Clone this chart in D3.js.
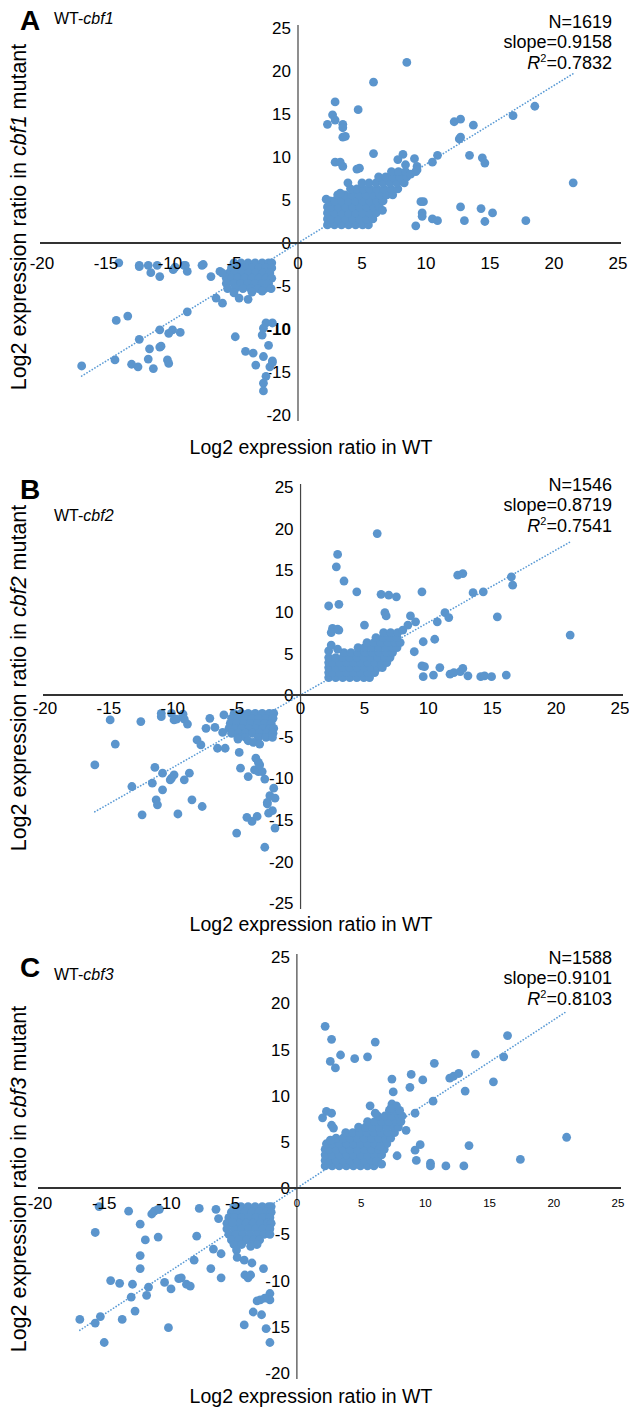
<!DOCTYPE html>
<html>
<head>
<meta charset="utf-8">
<script src="https://cdn.jsdelivr.net/npm/d3@7"></script>
<style>
  body { margin: 0; background: #fff; }
  text { font-family: "Liberation Sans", Arial, sans-serif; fill: #000; }
</style>
</head>
<body>
<div id="Chart"></div>
<script>
// Three WT vs cbf mutant scatter plots (log2 expression ratios)

//////////////////////////////////////////////////////////////////////////
// chart values

var panelLetters = ["A", "B", "C"];
var mutantNames  = ["cbf1", "cbf2", "cbf3"];
var geneCounts   = [1619, 1546, 1588];
var slopes       = [0.9158, 0.8719, 0.9101];
var rSquared     = ["0.7832", "0.7541", "0.8103"];

var xTicks  = [-20, -15, -10, -5, 0, 5, 10, 15, 20, 25];
var yTicksA = [-20, -15, -10, -5, 0, 5, 10, 15, 20, 25];
var yTicksB = [-25, -20, -15, -10, -5, 0, 5, 10, 15, 20, 25];
var yTicksC = [-20, -15, -10, -5, 0, 5, 10, 15, 20, 25];

// the dense blobs, read row by row: [mutant value, [WT values]]
var coreA = [
    [2.1, [2.3, 2.85, 3.4, 3.95, 4.5, 5.05, 5.5]],
    [2.8, [2.3, 2.6, 3.15, 3.7, 4.25, 4.8, 5.35, 5.85]],
    [3.5, [2.3, 2.85, 3.4, 3.95, 4.5, 5.05, 5.6, 6.1]],
    [4.2, [2.3, 2.6, 3.15, 3.7, 4.25, 4.8, 5.35, 5.9, 6.35]],
    [4.9, [2.5, 2.85, 3.4, 3.95, 4.5, 5.05, 5.6, 6.15, 6.65]],
    [5.6, [3.1, 3.65, 4.2, 4.75, 5.3, 5.85, 6.4, 6.95, 7.4]],
    [6.3, [4.1, 4.6, 5.1, 5.6, 6.15, 6.7, 7.25, 7.8]],
    [7.0, [5.0, 5.55, 6.1, 6.65, 7.2, 7.75, 8.3]],
    [7.7, [6.3, 6.85, 7.4, 7.95, 8.5]],
    [8.3, [7.3, 7.85, 8.4]],
    [-2.3, [-5.0, -4.45, -3.9, -3.35, -2.8, -2.3, -2.05]],
    [-2.9, [-5.2, -4.7, -4.15, -3.6, -3.05, -2.5, -2.05]],
    [-3.5, [-5.4, -4.95, -4.4, -3.85, -3.3, -2.75, -2.2]],
    [-4.1, [-5.6, -5.2, -4.7, -4.15, -3.6, -3.05, -2.5, -2.05]],
    [-4.7, [-5.6, -5.0, -4.45, -3.9, -3.35, -2.8, -2.3]],
    [-5.3, [-5.5, -4.9, -4.3, -3.7, -3.1, -2.6, -2.1]]
];

var outA = [
    [2.2, 5.1], [3.3, 5.8], [3.9, 7.0], [6.6, 3.8], [8.8, 8.0], [9.2, 8.3],
    [8.5, 21.0], [5.9, 18.7], [2.9, 16.4], [2.7, 14.9], [2.9, 14.3], [2.3, 13.8],
    [3.5, 13.8], [3.5, 13.4], [3.5, 12.3], [3.7, 12.4], [4.7, 15.5], [12.2, 14.1],
    [12.7, 14.4], [13.7, 13.7], [12.6, 12.1], [12.7, 12.3], [16.8, 14.8], [18.5, 15.9],
    [21.5, 7.0], [2.9, 9.4], [3.3, 9.4], [3.5, 8.9], [4.6, 8.6], [4.8, 8.7],
    [5.9, 10.4], [8.2, 10.3], [9.1, 9.8], [7.8, 9.7], [8.4, 9.1], [9.3, 8.9],
    [9.3, 8.5], [10.5, 9.4], [10.9, 10.2], [13.4, 10.2], [14.4, 9.9], [14.6, 9.3],
    [9.6, 4.8], [9.8, 4.8], [9.7, 3.5], [9.7, 3.1], [9.2, 2.0], [10.5, 2.8],
    [10.9, 2.6], [13.0, 2.6], [12.7, 4.2], [14.3, 4.0], [14.6, 2.5], [15.2, 3.5],
    [17.8, 2.6],
    [-5.0, -5.8], [-3.6, -5.7], [-2.8, -5.6],
    [-14.0, -2.3], [-12.4, -2.6], [-12.4, -2.75], [-11.7, -2.6], [-11.5, -3.45],
    [-11.0, -2.6], [-10.8, -3.9], [-9.75, -3.1], [-9.6, -2.8], [-8.9, -2.6],
    [-8.65, -3.3], [-7.5, -2.6], [-6.8, -3.9], [-6.1, -3.3], [-5.9, -3.5],
    [-6.4, -6.4], [-5.9, -7.0], [-4.6, -6.4], [-3.9, -6.55], [-8.65, -8.0],
    [-14.2, -9.0], [-13.3, -8.5], [-10.8, -10.1], [-9.8, -10.1], [-10.1, -10.5],
    [-9.2, -10.4], [-12.4, -11.2], [-11.6, -12.3], [-10.8, -12.1], [-10.7, -12.0],
    [-11.7, -13.5], [-14.3, -13.6], [-13.0, -14.1], [-12.5, -14.4], [-11.3, -14.6],
    [-10.2, -13.6], [-10.1, -14.0], [-16.9, -14.3], [-4.9, -10.9], [-4.1, -12.6],
    [-3.5, -12.8], [-3.3, -14.2], [-2.7, -13.2], [-2.8, -10.7], [-2.5, -9.3],
    [-2.7, -9.9], [-2.0, -9.3], [-2.3, -11.9], [-2.0, -13.7], [-2.2, -14.4],
    [-2.0, -13.9], [-2.5, -15.5], [-2.7, -16.3], [-2.7, -17.2], [-7.4, -2.5],
    [-8.8, -2.6]
];

var coreB = [
    [2.1, [2.2, 2.75, 3.3, 3.85, 4.4, 4.95, 5.4]],
    [2.7, [2.2, 2.5, 3.05, 3.6, 4.15, 4.7, 5.25, 5.8]],
    [3.3, [2.2, 2.75, 3.3, 3.85, 4.4, 4.95, 5.5, 6.05, 6.4]],
    [3.9, [2.2, 2.5, 3.05, 3.6, 4.15, 4.7, 5.25, 5.8, 6.35, 6.75]],
    [4.5, [2.2, 2.75, 3.3, 3.85, 4.4, 4.95, 5.5, 6.05, 6.6, 7.0]],
    [5.1, [3.4, 3.95, 4.5, 5.05, 5.6, 6.15, 6.7, 7.2]],
    [5.7, [4.5, 5.0, 5.55, 6.1, 6.65, 7.2, 7.55]],
    [6.3, [5.2, 5.75, 6.3, 6.85, 7.4, 7.8]],
    [6.9, [5.9, 6.45, 7.0, 7.55]],
    [7.5, [6.5, 7.05, 7.6]],
    [-2.2, [-5.2, -4.65, -4.1, -3.55, -3.0, -2.45, -2.1]],
    [-2.8, [-5.4, -4.9, -4.35, -3.8, -3.25, -2.7, -2.15]],
    [-3.4, [-5.5, -5.0, -4.45, -3.9, -3.35, -2.8, -2.3]],
    [-4.0, [-5.6, -5.1, -4.6, -4.05, -3.5, -2.95, -2.4, -2.1]],
    [-4.6, [-5.4, -4.85, -4.3, -3.75, -3.2, -2.65, -2.15]],
    [-5.1, [-4.9, -4.3, -3.3, -2.7, -2.2]]
];

var outB = [
    [2.2, 5.3], [2.4, 6.0], [2.9, 5.5], [8.0, 7.8], [8.4, 8.4],
    [6.0, 19.4], [2.9, 16.9], [2.8, 15.4], [3.4, 13.7], [4.4, 12.4], [6.3, 12.1],
    [6.9, 12.0], [7.5, 11.8], [9.5, 12.4], [12.3, 14.4], [12.7, 14.6], [13.5, 12.3],
    [14.3, 12.4], [16.5, 14.2], [16.6, 13.2], [2.2, 10.7], [3.0, 10.9], [6.6, 9.9],
    [6.7, 9.5], [8.6, 9.5], [9.0, 8.8], [11.3, 9.9], [11.6, 9.3], [10.7, 8.8],
    [15.4, 9.4], [21.1, 7.2], [2.5, 8.0], [2.9, 7.9], [3.0, 7.8], [2.4, 7.5],
    [5.0, 8.4], [9.6, 6.4], [10.5, 6.7], [8.9, 5.2], [9.5, 3.5], [9.7, 3.4],
    [9.6, 2.2], [10.4, 2.4], [10.9, 3.3], [11.7, 2.5], [12.0, 2.7], [12.5, 2.8],
    [12.7, 3.2], [13.1, 2.3], [14.1, 2.2], [14.4, 2.3], [14.95, 2.2], [16.1, 2.4],
    [-4.1, -5.5], [-3.7, -5.7], [-3.2, -5.9], [-6.0, -2.4], [-4.9, -5.3],
    [-14.9, -3.0], [-12.5, -3.2], [-14.5, -5.9], [-16.1, -8.4], [-10.9, -2.2],
    [-10.9, -2.6], [-10.1, -2.2], [-9.9, -3.0], [-9.7, -2.9], [-9.2, -2.3],
    [-9.1, -2.9], [-8.85, -3.5], [-7.1, -2.8], [-7.4, -4.0], [-6.7, -3.9],
    [-8.1, -5.4], [-7.8, -6.0], [-6.5, -6.4], [-5.9, -6.4], [-6.1, -4.5],
    [-4.8, -6.9], [-4.7, -8.8], [-11.4, -8.7], [-10.8, -9.4], [-9.9, -9.6],
    [-10.2, -10.2], [-10.1, -10.0], [-8.7, -9.4], [-9.1, -10.2], [-13.2, -11.0],
    [-11.6, -10.6], [-10.8, -11.4], [-11.3, -12.6], [-11.2, -13.2], [-8.5, -12.6],
    [-7.7, -13.4], [-12.4, -14.4], [-9.6, -14.3], [-4.1, -9.8], [-3.6, -9.0],
    [-3.3, -9.2], [-3.0, -9.2], [-3.5, -7.6], [-3.3, -8.1], [-3.2, -8.4],
    [-2.8, -10.1], [-2.1, -11.2], [-2.4, -12.1], [-2.0, -12.4], [-2.6, -12.9],
    [-2.6, -13.1], [-2.2, -13.9], [-2.5, -14.2], [-2.0, -16.0], [-4.2, -14.7],
    [-3.8, -15.2], [-3.4, -14.6], [-5.0, -16.6], [-2.8, -18.3]
];

var coreC = [
    [2.4, [2.2, 2.75, 3.3, 3.85, 4.4, 4.95, 5.5, 6.0]],
    [3.0, [2.2, 2.5, 3.05, 3.6, 4.15, 4.7, 5.25, 5.8, 6.3]],
    [3.6, [2.2, 2.75, 3.3, 3.85, 4.4, 4.95, 5.5, 6.05, 6.6]],
    [4.2, [2.2, 2.5, 3.05, 3.6, 4.15, 4.7, 5.25, 5.8, 6.35, 6.8]],
    [4.8, [2.3, 2.75, 3.3, 3.85, 4.4, 4.95, 5.5, 6.05, 6.6, 7.0]],
    [5.4, [3.05, 3.6, 4.15, 4.7, 5.25, 5.8, 6.35, 6.9, 7.3]],
    [6.0, [3.8, 4.35, 4.9, 5.45, 6.0, 6.55, 7.1, 7.6]],
    [6.6, [4.8, 5.35, 5.9, 6.45, 7.0, 7.55, 7.9]],
    [7.2, [5.5, 6.05, 6.6, 7.15, 7.7, 8.1]],
    [7.8, [6.3, 6.85, 7.4, 7.95, 8.2]],
    [8.4, [7.2, 7.7, 8.0]],
    [-2.0, [-4.9, -4.35, -3.8, -3.25, -2.7, -2.2, -2.0]],
    [-2.6, [-5.1, -4.6, -4.05, -3.5, -2.95, -2.4, -2.0]],
    [-3.2, [-5.3, -4.85, -4.3, -3.75, -3.2, -2.65, -2.1]],
    [-3.8, [-5.45, -5.0, -4.5, -3.95, -3.4, -2.85, -2.3, -2.0]],
    [-4.4, [-5.45, -4.85, -4.3, -3.75, -3.2, -2.65, -2.1]],
    [-5.0, [-5.3, -4.75, -4.2, -3.65, -3.1, -2.55, -2.1]],
    [-5.6, [-5.1, -4.5, -3.9, -3.35, -2.9]],
    [-6.1, [-4.9, -4.3, -3.5, -3.1]]
];

var outC = [
    [7.4, 9.1], [7.75, 8.9], [7.3, 8.6], [2.6, 5.2], [6.2, 2.9],
    [2.2, 17.5], [2.7, 16.1], [2.6, 13.7], [3.0, 13.0], [3.4, 14.4], [4.5, 14.0],
    [5.5, 14.2], [6.1, 15.8], [16.4, 16.5], [13.9, 14.5], [16.1, 14.2], [10.7, 13.5],
    [11.9, 11.9], [12.2, 12.1], [12.6, 12.4], [15.3, 11.5], [7.4, 11.8], [8.9, 12.3],
    [8.8, 10.9], [9.8, 11.7], [10.6, 9.4], [13.1, 10.5], [5.7, 8.9], [7.5, 10.4],
    [2.3, 8.3], [2.7, 8.1], [2.0, 7.6], [2.7, 6.8], [2.85, 6.5], [6.1, 8.1],
    [9.2, 8.1], [8.5, 6.25], [21.0, 5.5], [13.4, 4.6], [9.6, 4.7], [9.2, 4.1],
    [17.4, 3.1], [7.8, 3.5], [9.3, 3.0], [10.4, 2.7], [10.4, 2.4], [11.6, 2.4],
    [13.0, 2.4], [6.6, 2.6], [6.5, 4.5],
    [-5.0, -3.7],
    [-15.4, -2.0], [-13.1, -2.5], [-11.3, -2.8], [-11.1, -2.5], [-10.8, -2.3],
    [-10.7, -2.3], [-12.2, -3.9], [-15.7, -4.8], [-11.8, -5.6], [-10.8, -5.3],
    [-7.8, -5.2], [-7.6, -2.2], [-6.3, -2.3], [-6.1, -3.3], [-12.2, -7.3],
    [-12.2, -8.7], [-8.0, -7.8], [-6.5, -6.6], [-5.9, -7.1], [-4.65, -7.5],
    [-4.1, -7.8], [-3.5, -8.1], [-6.7, -8.7], [-5.9, -9.7], [-4.05, -9.4],
    [-3.8, -9.7], [-3.6, -9.4], [-2.6, -8.7], [-14.5, -10.0], [-13.8, -10.3],
    [-12.8, -10.4], [-11.55, -10.7], [-11.7, -11.6], [-10.3, -10.2], [-9.8, -10.9],
    [-9.2, -9.8], [-9.0, -9.7], [-8.6, -10.4], [-8.3, -10.6], [-12.9, -11.8],
    [-12.6, -13.3], [-16.9, -14.2], [-15.7, -14.6], [-15.3, -13.9], [-15.0, -16.7],
    [-13.6, -14.2], [-10.0, -15.1], [-4.1, -14.8], [-3.4, -13.4], [-3.1, -12.2],
    [-2.85, -12.1], [-2.75, -13.7], [-2.4, -15.2], [-2.1, -11.4], [-2.1, -12.1],
    [-2.1, -16.7], [-2.5, -11.9], [-3.6, -6.3], [-4.7, -6.7]
];

//////////////////////////////////////////////////////////////////////////
// layout (pixel placement of each panel)

var Width = 629;
var Height = 1407;
var DotRadius = 4.4;
var DotColor = "#5b95cd";
var LineColor = "#5b9bd5";

var Layout = [
    { xRange: [42, 618], yDomain: [-20, 25], yRange: [415, 28], yTicks: yTicksA,
      letterY: 30, subY: 24, statY: 28, xTitleY: 454, yTitleMid: 217,
      xLabelDrop: 20, boldTick: -10, smallPositive: false },
    { xRange: [45, 620], yDomain: [-25, 25], yRange: [903, 487], yTicks: yTicksB,
      letterY: 499, subY: 521, statY: 491, xTitleY: 931, yTitleMid: 678,
      xLabelDrop: 13, boldTick: null, smallPositive: false },
    { xRange: [40, 618], yDomain: [-20, 25], yRange: [1373, 957], yTicks: yTicksC,
      letterY: 977, subY: 980, statY: 964, xTitleY: 1403, yTitleMid: 1179,
      xLabelDrop: 15, boldTick: null, smallPositive: true }
];

//////////////////////////////////////////////////////////////////////////
// functions

// flatten the blob rows and add the loose points
function makePoints (core, loose) {
    var pts = [];
    core.forEach(function (row) {
        row[1].forEach(function (x) { pts.push([x, row[0]]); });
    });
    return pts.concat(loose);
} // end makePoints

function drawPanel (svg, i, points) {

    var L = Layout[i];
    var xScale = d3.scaleLinear().domain([-20, 25]).range(L.xRange);
    var yScale = d3.scaleLinear().domain(L.yDomain).range(L.yRange);
    var x0 = xScale(0), y0 = yScale(0);
    var g = svg.append("g").attr("class", "panel");

    // y axis line and its labels (labels sit under the dots)
    g.append("line")
        .attr("x1", x0).attr("x2", x0)
        .attr("y1", yScale(25) - 3).attr("y2", yScale(L.yDomain[0]) + 6)
        .attr("stroke", "#444").attr("stroke-width", 1.2);

    g.selectAll(".ylab")
        .data(L.yTicks)
        .enter()
        .append("text")
        .attr("class", "ylab")
        .attr("x", x0 - 7)
        .attr("y", function (d) { return yScale(d); })
        .attr("dy", "0.36em")
        .attr("text-anchor", "end")
        .attr("font-size", "17px")
        .attr("font-weight", function (d) { return d === L.boldTick ? "bold" : "normal"; })
        .text(function (d) { return d; });

    // dotted trend line through the origin, over the data range
    var xs = points.map(function (p) { return p[0]; });
    var xMin = d3.min(xs), xMax = d3.max(xs);
    g.append("line")
        .attr("x1", xScale(xMin)).attr("y1", yScale(slopes[i] * xMin))
        .attr("x2", xScale(xMax)).attr("y2", yScale(slopes[i] * xMax))
        .attr("stroke", LineColor)
        .attr("stroke-width", 1.7)
        .attr("stroke-linecap", "round")
        .attr("stroke-dasharray", "0.1 3");

    // the genes
    g.selectAll("circle")
        .data(points)
        .enter()
        .append("circle")
        .attr("cx", function (d) { return xScale(d[0]); })
        .attr("cy", function (d) { return yScale(d[1]); })
        .attr("r", DotRadius)
        .attr("fill", DotColor);

    // x axis line and labels
    g.append("line")
        .attr("x1", L.xRange[0] - 2).attr("x2", L.xRange[1] + 3)
        .attr("y1", y0).attr("y2", y0)
        .attr("stroke", "#333").attr("stroke-width", 2);

    g.selectAll(".xlab")
        .data(xTicks)
        .enter()
        .append("text")
        .attr("class", "xlab")
        .attr("x", function (d) { return xScale(d); })
        .attr("y", y0 + L.xLabelDrop)
        .attr("dy", "0.36em")
        .attr("text-anchor", "middle")
        .attr("font-size", function (d) { return (L.smallPositive && d >= 0) ? "11.5px" : "17px"; })
        .text(function (d) { return d; });

    // panel letter and comparison name
    g.append("text")
        .attr("x", 20).attr("y", L.letterY)
        .attr("font-size", "28px").attr("font-weight", "bold")
        .text(panelLetters[i]);

    var sub = g.append("text")
        .attr("x", 54).attr("y", L.subY)
        .attr("font-size", "16px");
    sub.append("tspan").text("WT-");
    sub.append("tspan").attr("font-style", "italic").text(mutantNames[i]);

    // statistics, right aligned
    var statX = 612;
    g.append("text").attr("x", statX).attr("y", L.statY)
        .attr("text-anchor", "end").attr("font-size", "18px")
        .text("N=" + geneCounts[i]);
    g.append("text").attr("x", statX).attr("y", L.statY + 20)
        .attr("text-anchor", "end").attr("font-size", "18px")
        .text("slope=" + slopes[i].toFixed(4));
    var r2 = g.append("text").attr("x", statX).attr("y", L.statY + 41)
        .attr("text-anchor", "end").attr("font-size", "18px");
    r2.append("tspan").attr("font-style", "italic").text("R");
    r2.append("tspan").attr("font-size", "11px").attr("dy", -7).text("2");
    r2.append("tspan").attr("dy", 7).text("=" + rSquared[i]);

    // axis titles
    g.append("text")
        .attr("x", 311).attr("y", L.xTitleY)
        .attr("text-anchor", "middle").attr("font-size", "19.5px")
        .text("Log2 expression ratio in WT");

    var yt = g.append("text")
        .attr("transform", "translate(26," + L.yTitleMid + ") rotate(-90)")
        .attr("text-anchor", "middle").attr("font-size", "21.5px");
    yt.append("tspan").text("Log2 expression ratio in ");
    yt.append("tspan").attr("font-style", "italic").text(mutantNames[i]);
    yt.append("tspan").text(" mutant");

} // end drawPanel

function initialize () {
    var svg = d3.select("#Chart")
        .append("svg")
        .attr("width", Width)
        .attr("height", Height);

    drawPanel(svg, 0, makePoints(coreA, outA));
    drawPanel(svg, 1, makePoints(coreB, outB));
    drawPanel(svg, 2, makePoints(coreC, outC));
} // end initialize

initialize();
</script>
</body>
</html>
